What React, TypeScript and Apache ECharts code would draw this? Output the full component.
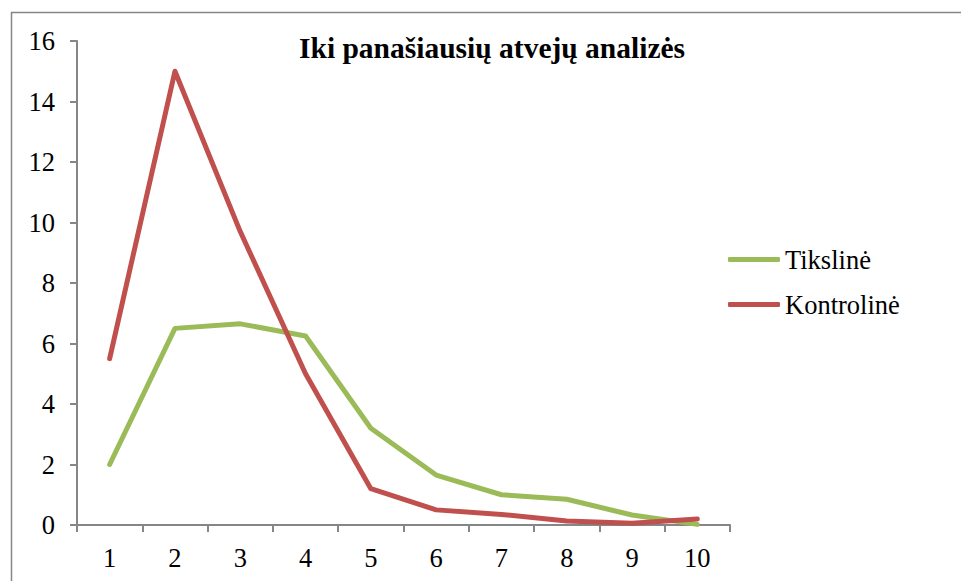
import React, { useEffect, useRef } from "react";
import * as echarts from "echarts";

const categories = ["1", "2", "3", "4", "5", "6", "7", "8", "9", "10"];
const tikslineValues = [2.0, 6.5, 6.65, 6.25, 3.2, 1.65, 1.0, 0.85, 0.33, 0.02];
const kontrolineValues = [5.5, 15.0, 9.7, 5.0, 1.2, 0.5, 0.35, 0.13, 0.06, 0.2];
const titleText = "Iki panašiausių atvejų analizės";
const seriesNames = ["Tikslinė", "Kontrolinė"];

const FONT = "Times New Roman, Liberation Serif, serif";
const AXIS_COLOR = "#868686";

export default function App() {
  const ref = useRef<HTMLDivElement>(null);
  useEffect(() => {
    if (!ref.current) return;
    const chart = echarts.init(ref.current, undefined, { renderer: "svg" });
    const labelStyle = {
      fontFamily: FONT,
      fontSize: 26.5,
      color: "#000",
    };
    chart.setOption({
      animation: false,
      backgroundColor: "#ffffff",
      textStyle: { fontFamily: FONT },
      title: {
        text: titleText,
        left: 299,
        top: 33,
        padding: 0,
        textStyle: { fontFamily: FONT, fontSize: 29.5, fontWeight: "bold", color: "#000" },
      },
      graphic: [
        {
          type: "rect",
          shape: { x: 11.5, y: 12.5, width: 1000, height: 1000 },
          style: { fill: "none", stroke: AXIS_COLOR, lineWidth: 1.5 },
          silent: true,
        },
      ],
      legend: {
        orient: "vertical",
        left: 728,
        top: 246,
        padding: 0,
        itemWidth: 52,
        itemHeight: 5,
        itemGap: 18,
        icon: "roundRect",
        data: seriesNames,
        textStyle: { ...labelStyle, lineHeight: 26 },
      },
      grid: { left: 77, right: 231, top: 41, bottom: 56, containLabel: false },
      xAxis: {
        type: "category",
        data: categories,
        boundaryGap: true,
        axisLine: { show: true, lineStyle: { color: AXIS_COLOR, width: 2 } },
        axisTick: { show: true, length: 7, inside: false, alignWithLabel: false, lineStyle: { color: AXIS_COLOR, width: 2 } },
        axisLabel: { ...labelStyle, margin: 19 },
        splitLine: { show: false },
      },
      yAxis: {
        type: "value",
        min: 0,
        max: 16,
        interval: 2,
        axisLine: { show: true, lineStyle: { color: AXIS_COLOR, width: 2 } },
        axisTick: { show: true, length: 7, inside: false, lineStyle: { color: AXIS_COLOR, width: 2 } },
        axisLabel: { ...labelStyle, margin: 22 },
        splitLine: { show: false },
      },
      series: [
        {
          name: seriesNames[0],
          type: "line",
          data: tikslineValues,
          symbol: "none",
          color: "#9BBB59",
          lineStyle: { width: 5, color: "#9BBB59", cap: "round", join: "round" },
        },
        {
          name: seriesNames[1],
          type: "line",
          data: kontrolineValues,
          symbol: "none",
          color: "#C0504D",
          lineStyle: { width: 5, color: "#C0504D", cap: "round", join: "round" },
        },
      ],
    });
    return () => chart.dispose();
  }, []);
  return (
    <div
      ref={ref}
      style={{ position: "fixed", left: 0, top: 0, width: 961, height: 581 }}
    />
  );
}
